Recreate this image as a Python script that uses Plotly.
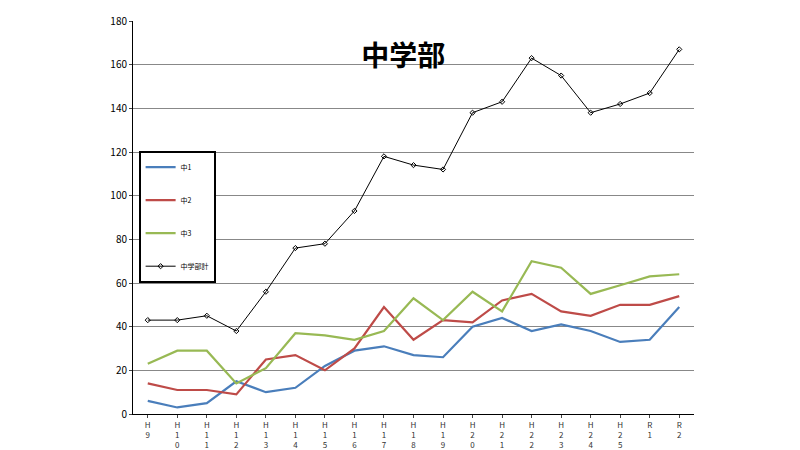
import plotly.graph_objects as go

years = ["H9", "H10", "H11", "H12", "H13", "H14", "H15", "H16", "H17", "H18",
         "H19", "H20", "H21", "H22", "H23", "H24", "H25", "R1", "R2"]
tick_labels = ["<br>".join(list(y)) for y in years]

chu1 = [6, 3, 5, 15, 10, 12, 22, 29, 31, 27, 26, 40, 44, 38, 41, 38, 33, 34, 49]
chu2 = [14, 11, 11, 9, 25, 27, 20, 30, 49, 34, 43, 42, 52, 55, 47, 45, 50, 50, 54]
chu3 = [23, 29, 29, 14, 21, 37, 36, 34, 38, 53, 43, 56, 47, 70, 67, 55, 59, 63, 64]
total = [43, 43, 45, 38, 56, 76, 78, 93, 118, 114, 112, 138, 143, 163, 155, 138, 142, 147, 167]

fig = go.Figure()
series = [("中1", chu1, "#4A7EBB"), ("中2", chu2, "#BE4B48"), ("中3", chu3, "#98B954")]
for name, vals, col in series:
    fig.add_trace(go.Scatter(x=years, y=vals, name=name, mode="lines",
                             line=dict(color=col, width=2.2), legendgroup=name))
fig.add_trace(go.Scatter(x=years, y=total, name="中学部計", mode="lines+markers",
                         line=dict(color="black", width=1),
                         marker=dict(symbol="diamond-open", size=4, color="black"),
                         legendgroup="total"))

fig.update_layout(
    width=800, height=450,
    paper_bgcolor="white", plot_bgcolor="white",
    margin=dict(l=125, r=114, t=13, b=44),
    font=dict(family="Noto Sans CJK JP", size=9, color="black"),
    title=dict(text="<b>中学部</b>", x=0.494, y=0.915, xanchor="center",
               font=dict(size=28, family="Noto Sans CJK JP")),
    legend=dict(x=0.01, y=0.67, xanchor="left", yanchor="top",
                bordercolor="black", borderwidth=2, bgcolor="white",
                tracegroupgap=14, itemwidth=30, font=dict(size=7)),
    xaxis=dict(tickvals=years, ticktext=tick_labels, tickangle=0,
               range=[-0.5, 18.5], automargin=False,
               showline=True, linecolor="black", showgrid=False,
               ticks="outside", ticklen=3, tickfont=dict(size=8, color="#333333")),
    yaxis=dict(range=[0, 180], dtick=20, showline=True, linecolor="black",
               automargin=False,
               gridcolor="#888888", gridwidth=1, ticks="outside", ticklen=3,
               tickfont=dict(size=10)),
)

fig.write_html("out.html")
